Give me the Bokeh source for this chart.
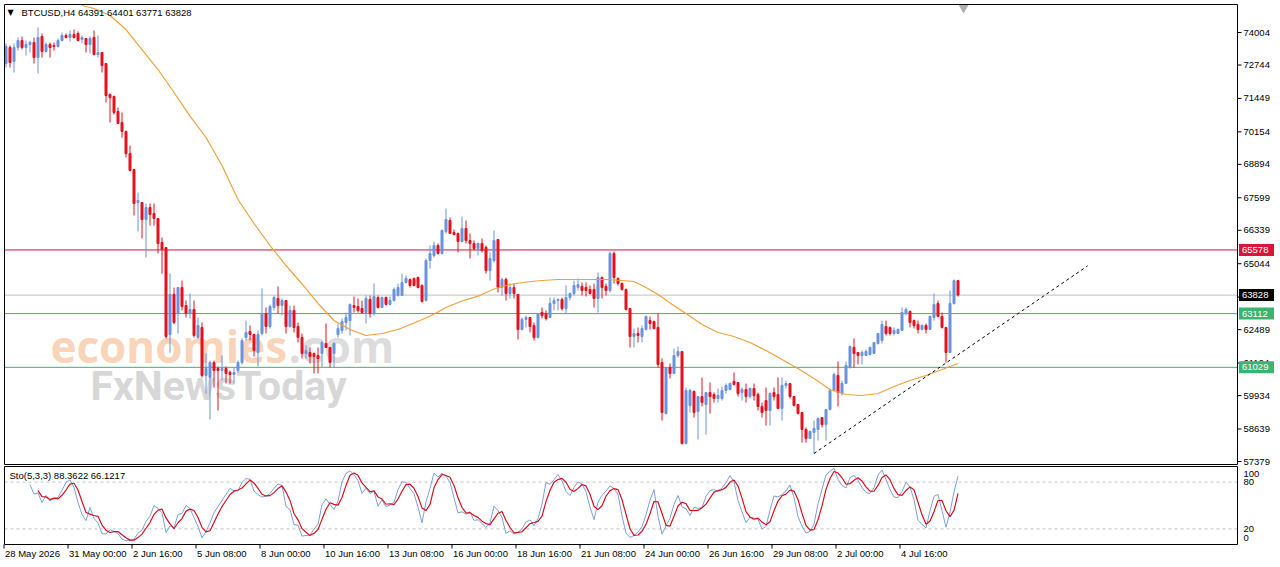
import numpy as np
from bokeh.plotting import figure
from bokeh.models import Range1d, ColumnDataSource
from bokeh.embed import file_html
from bokeh.resources import INLINE
from bokeh.core.properties import value

# ---------------- data (BTCUSD H4) ----------------
opens = [
    72803, 73423, 72880, 73423, 73694, 73423, 73539, 73616, 73035, 73849,
    73268, 73539, 73500, 73461, 73694, 73888, 73810, 73926, 73965, 73733,
    73771, 73539, 73810, 73151, 73229, 72803, 71601, 71524, 70943, 70516,
    70168, 69315, 68695, 67416, 67416, 66758, 67223, 66990, 66796, 65866,
    65673, 62302, 63852, 63115, 64123, 63425, 63115, 63270, 62185, 62573,
    60713, 60635, 61216, 60984, 60906, 60984, 60829, 60751, 60906, 61216,
    62185, 62418, 62302, 61604, 62340, 63115, 62611, 63348, 63697, 63425,
    63619, 62611, 63232, 62611, 62185, 61565, 61604, 61565, 61488, 61565,
    61953, 61798, 61565, 62302, 62457, 62767, 62844, 63425, 63387, 63309,
    63154, 63658, 63115, 63735, 63348, 63735, 63464, 63619, 63813, 63813,
    64317, 64433, 64472, 64510, 64200, 63619, 65169, 65363, 65750, 65440,
    66293, 66719, 66254, 66215, 65905, 66409, 65944, 65828, 65634, 65828,
    65673, 64782, 65169, 65983, 64123, 64433, 63890, 64123, 63852, 62495,
    62883, 62960, 62650, 62185, 63154, 63115, 62960, 63503, 63619, 63658,
    63309, 63735, 63890, 64123, 64162, 64123, 64045, 64045, 63697, 64510,
    64162, 64007, 65440, 64472, 64278, 64045, 63309, 62224, 62340, 62224,
    62495, 62844, 62805, 62573, 61216, 59240, 61023, 60790, 61488, 61643,
    58077, 59550, 60093, 59318, 59899, 59589, 60054, 59976, 59821, 59821,
    60132, 60170, 60481, 60442, 60054, 60170, 59899, 60209, 59976, 59512,
    59744, 59356, 60054, 59976, 59434, 60325, 60403, 59899, 59589, 59279,
    58620, 58271, 58504, 58620, 59085, 58814, 59395, 60132, 60713, 60015,
    60403, 61023, 61798, 61604, 61488, 61488, 61526, 61565, 61953, 62069,
    62611, 62573, 62340, 62340, 62457, 63115, 63193, 62844, 62689, 62495,
    62650, 62495, 62960, 63503, 62999, 62573, 61604, 63503, 64391,
]
highs = [
    73578, 73500, 73578, 73810, 73849, 73694, 73694, 73810, 74198, 73965,
    73616, 73616, 73616, 73771, 74004, 73965, 74081, 74120, 74043, 73888,
    73771, 73849, 74081, 73888, 73229, 72803, 71640, 71563, 71098, 70904,
    70206, 69625, 68695, 67804, 67416, 67378, 67378, 67378, 66796, 66060,
    65673, 64665, 64123, 64123, 64394, 63619, 63890, 63619, 62960, 62767,
    61565, 61294, 61294, 61061, 61488, 61061, 60906, 61023, 61294, 62147,
    62844, 62650, 62340, 62457, 64084, 63348, 63464, 63813, 64162, 63697,
    63619, 63425, 63425, 62767, 62340, 61875, 61798, 61604, 61798, 62069,
    62728, 61798, 61992, 62728, 62921, 63154, 63503, 63774, 63697, 63619,
    63813, 63813, 64278, 63813, 63774, 63774, 63774, 64123, 64278, 64665,
    64588, 64472, 64510, 64549, 64239, 65246, 65750, 65905, 65828, 66370,
    67184, 66835, 66370, 66254, 66874, 66719, 66215, 65944, 65866, 66021,
    65750, 65479, 66332, 65983, 64510, 64510, 64278, 64278, 63852, 62960,
    63038, 62960, 62767, 63115, 63348, 63232, 63735, 63735, 63697, 63735,
    64200, 63929, 64394, 64472, 64317, 64317, 64200, 64278, 64704, 64549,
    64278, 65518, 65518, 64510, 64317, 64084, 63309, 62534, 62573, 62650,
    63038, 62999, 62844, 63115, 61371, 61023, 61178, 61759, 61836, 61643,
    60248, 60209, 60132, 59899, 60635, 60054, 60442, 60054, 60209, 60287,
    60403, 60442, 60829, 60442, 60248, 60403, 60248, 60403, 60054, 59666,
    60248, 60054, 60248, 60635, 60635, 60519, 60403, 59899, 59589, 59279,
    58698, 58581, 58969, 59085, 59085, 59395, 60209, 60829, 61255, 60519,
    61255, 61875, 62147, 61604, 61682, 61720, 61836, 61992, 62340, 62844,
    62844, 62611, 62573, 62534, 63348, 63348, 63232, 62883, 62844, 62689,
    62728, 63038, 63890, 63619, 63154, 62573, 64007, 64433, 64401,
]
lows = [
    72648, 72648, 72454, 73306, 73345, 73113, 73229, 72803, 72415, 73035,
    73229, 73035, 73306, 73423, 73655, 73771, 73655, 73771, 73655, 73578,
    73229, 73190, 73113, 73035, 72454, 71291, 70516, 70826, 70478, 69935,
    69161, 68618, 66913, 66293, 66021, 65285, 66525, 66525, 65440, 64665,
    62147, 61604, 62700, 62340, 63231, 62960, 62921, 62185, 62147, 60635,
    60015, 59008, 60248, 59356, 60519, 60403, 60403, 60403, 60829, 61139,
    62069, 62069, 61449, 61062, 62263, 62340, 62534, 63232, 63115, 63038,
    62340, 62573, 62379, 61992, 61371, 61371, 61178, 60790, 60790, 61023,
    61798, 61023, 61023, 62185, 62340, 62457, 62263, 63154, 63154, 63115,
    62728, 62960, 63038, 63309, 63348, 63425, 63425, 63580, 63774, 63813,
    64278, 64123, 64162, 64084, 63542, 63580, 64859, 65285, 65401, 65401,
    66215, 66215, 66138, 65479, 65866, 65828, 65246, 65557, 65363, 65479,
    64665, 64394, 65091, 63929, 63813, 63619, 63697, 63697, 62108, 62457,
    62573, 62379, 62069, 62147, 62921, 62844, 62960, 63232, 63232, 63232,
    63115, 63619, 63813, 64007, 63813, 63774, 63852, 63348, 63154, 63697,
    63813, 63929, 64278, 64200, 64007, 63232, 61798, 61798, 61992, 61992,
    62457, 62495, 62495, 61023, 58969, 59202, 60596, 60790, 61410, 58039,
    58039, 59279, 59085, 58233, 59512, 58426, 59240, 59666, 59666, 59744,
    60015, 60132, 60325, 59899, 59744, 59666, 59821, 59744, 59356, 59085,
    58775, 58775, 59744, 59434, 58969, 60209, 59821, 59512, 59202, 58116,
    58116, 58271, 57690, 58194, 58698, 58194, 59356, 60093, 59512, 59938,
    60403, 60984, 61023, 61139, 61139, 61488, 61488, 61565, 61914, 61953,
    62263, 62263, 62263, 62340, 62457, 63038, 62573, 62534, 62340, 62457,
    62340, 62495, 62844, 62960, 62534, 61216, 61604, 63464, 63771,
]
closes = [
    73461, 72841, 73423, 73694, 73423, 73539, 73616, 73035, 73810, 73268,
    73539, 73423, 73461, 73694, 73888, 73810, 73926, 73810, 73694, 73810,
    73539, 73771, 73151, 73229, 72725, 71563, 71485, 70904, 70478, 70168,
    69315, 68656, 67378, 67494, 66758, 67223, 66951, 66796, 65828, 65595,
    62224, 63852, 62767, 64123, 63387, 63115, 63270, 62263, 62650, 60713,
    60984, 61216, 60906, 60906, 60984, 60790, 60751, 60829, 61216, 62069,
    62379, 62302, 61682, 62302, 63115, 62611, 63387, 63735, 63425, 63619,
    62611, 63232, 62573, 62185, 61565, 61682, 61449, 61449, 61371, 61992,
    61798, 61216, 61953, 62534, 62805, 62960, 63464, 63348, 63232, 63154,
    63697, 63115, 63774, 63348, 63735, 63464, 63619, 64045, 64123, 64317,
    64472, 64200, 64200, 64123, 63580, 65169, 65440, 65750, 65440, 66332,
    66758, 66215, 66177, 65905, 66409, 65944, 65828, 65634, 65828, 65557,
    64782, 65246, 65944, 64123, 64433, 63890, 64123, 63890, 62495, 62883,
    62960, 62611, 62185, 63115, 63038, 62921, 63503, 63619, 63658, 63309,
    63735, 63890, 64200, 64239, 64007, 64007, 63890, 63697, 64510, 64123,
    64007, 65440, 64510, 64278, 64045, 63270, 62224, 62340, 62263, 62534,
    62999, 62728, 62534, 61139, 59279, 61023, 60790, 61488, 61643, 58077,
    60132, 60132, 59279, 59899, 59666, 60054, 59899, 59821, 59938, 60132,
    60325, 60403, 60364, 60015, 60170, 59899, 60209, 59938, 59512, 59279,
    59356, 60015, 59899, 59434, 60325, 60403, 59899, 59550, 59240, 58620,
    58271, 58543, 58659, 59047, 58814, 59395, 60132, 60751, 60054, 60403,
    61100, 61836, 61565, 61488, 61604, 61643, 61798, 61992, 62340, 62689,
    62340, 62340, 62457, 62495, 63154, 63270, 62767, 62650, 62495, 62650,
    62495, 62999, 63464, 62999, 62573, 61604, 63503, 64391, 63828,
]

# moving average line (bar index, price)
ma_idx = [19, 22, 26, 30, 34, 38, 42, 46, 50, 54, 58, 62, 66, 70, 74, 78, 82,
          86, 90, 94, 98, 102, 106, 110, 114, 118, 122, 126, 130, 134, 138, 142,
          146, 150, 154, 157, 160, 163, 166, 170, 174, 178, 182, 186, 190, 194,
          198, 202, 206, 210, 214, 218, 222, 226, 230, 234, 238]
ma_val = [75050, 74934, 74663, 74120, 73345, 72570, 71679, 70764, 69935,
          68850, 67533, 66603, 65750, 64975, 64259, 63503, 62844, 62495, 62263,
          62340, 62495, 62747, 63011, 63348, 63600, 63786, 64065, 64239, 64336,
          64394, 64433, 64433, 64433, 64433, 64394, 64355, 64123, 63852, 63522,
          63115, 62689, 62379, 62224, 61992, 61682, 61333, 60984, 60596, 60170,
          59976, 59938, 60015, 60287, 60519, 60713, 60945, 61178]

# trend line (bar index, price)
trend_idx = [202, 270.4]
trend_price = [57690, 64960]

# time axis labels (bar index of each label)
date_idx = [0, 16, 32, 48, 64, 80, 96, 112, 128, 144, 160, 176, 192, 208, 224]
date_labels = ["28 May 2026", "31 May 00:00", "2 Jun 16:00", "5 Jun 08:00",
               "8 Jun 00:00", "10 Jun 16:00", "13 Jun 08:00", "16 Jun 00:00",
               "18 Jun 16:00", "21 Jun 08:00", "24 Jun 00:00", "26 Jun 16:00",
               "29 Jun 08:00", "2 Jul 00:00", "4 Jul 16:00"]

price_ticks = [74004, 72744, 71449, 70154, 68894, 67599, 66339, 65044, 63749,
               62489, 61194, 59934, 58639, 57379]

level_values = [65578, 63112, 61029]
level_colors = ["#c8143c", "#3cb371", "#3cb371"]
box_colors = ["#dc143c", "#3cb371", "#3cb371"]
last_price = 63828

sto_levels = [80, 20]
sto_tick_labels = ["100", "80", "20", "0"]

title_text = "BTCUSD,H4  64391 64401 63771 63828"
sto_text = "Sto(5,3,3) 88.3622 66.1217"

# ---------------- layout constants (pixel grid of the terminal) ----------------
PX_X = 0.25          # bar units per pixel (4 px per bar)
PX_P = 38.75         # price units per pixel
PX_S = 100.0 / 78.0  # stochastic units per pixel
XL, XR = -0.375, 307.875          # chart frame left/right (bar units)
YB, YT = 57264.0, 75089.0         # main frame bottom/top (price)

FONT = "Liberation Sans"
FS = "9.5px"
BULL = "#6b93dd"
BEAR = "#e3121c"
MA_COL = "#f0a23a"

n = len(closes)
x = np.arange(n)
o = np.array(opens, dtype=float)
h = np.array(highs, dtype=float)
lo = np.array(lows, dtype=float)
c = np.array(closes, dtype=float)
bull = c >= o
src = ColumnDataSource(dict(
    x=x, h=h, l=lo,
    top=np.maximum(o, c), bottom=np.minimum(o, c),
    color=np.where(bull, BULL, BEAR),
))

p = figure(width=1280, height=567,
           x_range=Range1d(XL - 4 * PX_X, XR + 43 * PX_X),
           y_range=Range1d(YB - 103 * PX_P, YT + 4 * PX_P),
           output_backend="svg", toolbar_location=None,
           x_axis_location=None, y_axis_location=None, min_border=0)
p.extra_y_ranges = {"sto": Range1d(0 - 23 * PX_S, 100 + 466 * PX_S)}
p.grid.visible = False
p.outline_line_color = None
p.background_fill_color = "white"
p.border_fill_color = "white"

# watermark
p.text(x=[XL + 46 * PX_X], y=[YT - 341 * PX_P], text=["economies"],
       text_font=value("Open Sans"), text_font_style="bold",
       text_font_size="44px", text_color="#f9c8a5", text_alpha=0.8,
       text_baseline="alphabetic")
p.text(x=[XL + 284 * PX_X], y=[YT - 341 * PX_P], text=[".com"],
       text_font=value("Open Sans"), text_font_style="bold",
       text_font_size="44px", text_color="#d6d6d6", text_alpha=0.85,
       text_baseline="alphabetic")
p.text(x=[XL + 86 * PX_X], y=[YT - 381 * PX_P], text=["FxNewsToday"],
       text_font=value("Roboto"), text_font_style="bold",
       text_font_size="41px", text_color="#cdcdcd", text_alpha=0.8,
       text_baseline="alphabetic")

# horizontal levels
p.segment(x0=[XL], x1=[XR], y0=[last_price], y1=[last_price],
          line_color="#c0c0c0", line_width=1)
p.segment(x0=[XL] * len(level_values), x1=[XR] * len(level_values),
          y0=level_values, y1=level_values, line_color=level_colors, line_width=1)

# candles
p.segment(x0="x", y0="l", x1="x", y1="h", line_color="color", line_width=1, source=src)
p.vbar(x="x", width=0.5, top="top", bottom="bottom", fill_color="color",
       line_color="color", line_width=1, source=src)

# moving average and trend line
p.line(ma_idx, ma_val, line_color=MA_COL, line_width=1.2)
p.line(trend_idx, trend_price, line_color="black", line_width=1, line_dash="3 3")

# chart shift marker
p.scatter(x=[239.4], y=[YT - 3 * PX_P], marker="inverted_triangle", size=9,
          fill_color="#b0b0b0", line_color="#b0b0b0")

# main frame
p.quad(left=[XL], right=[XR], bottom=[YB], top=[YT], fill_color=None,
       line_color="black", line_width=1)

# price scale: ticks and labels
p.segment(x0=[XR] * len(price_ticks), x1=[XR + 4 * PX_X] * len(price_ticks),
          y0=price_ticks, y1=price_ticks, line_color="black", line_width=1)
p.text(x=[XR + 6 * PX_X] * len(price_ticks), y=price_ticks,
       text=[str(t) for t in price_ticks], text_font=value(FONT),
       text_font_size=FS, text_color="black", text_baseline="middle",
       text_align="left")

# price boxes
box_vals = [last_price] + level_values
box_cols = ["#000000"] + box_colors
p.rect(x=[XR + 19 * PX_X] * len(box_vals), y=box_vals, width=35 * PX_X,
       height=12 * PX_P, fill_color=box_cols, line_color=None)
p.text(x=[XR + 4.5 * PX_X] * len(box_vals), y=box_vals,
       text=[str(v) for v in box_vals], text_font=value(FONT),
       text_font_size=FS, text_color="white", text_baseline="middle",
       text_align="left")

# title
p.text(x=[XL + 3 * PX_X], y=[YT - 8 * PX_P], text=["\u25bc"],
       text_font=value("DejaVu Sans"), text_font_size="8px",
       text_color="black", text_baseline="middle")
p.text(x=[XL + 17 * PX_X], y=[YT - 8 * PX_P], text=[title_text],
       text_font=value(FONT), text_font_size=FS, text_color="black",
       text_baseline="middle")

# ---------------- stochastic (5,3,3) from the candles ----------------
hh = np.array([h[max(0, i - 4):i + 1].max() for i in range(n)])
ll = np.array([lo[max(0, i - 4):i + 1].min() for i in range(n)])
k_main = np.full(n, np.nan)
for i in range(6, n):
    num = (c[i - 2:i + 1] - ll[i - 2:i + 1]).sum()
    den = (hh[i - 2:i + 1] - ll[i - 2:i + 1]).sum()
    k_main[i] = 100.0 * num / den if den > 0 else 50.0
k_sig = np.full(n, np.nan)
for i in range(8, n):
    k_sig[i] = k_main[i - 2:i + 1].mean()

p.segment(x0=[XL] * 2, x1=[XR] * 2, y0=sto_levels, y1=sto_levels,
          line_color="#c4c4c4", line_width=1, line_dash="3 3", y_range_name="sto")
p.line(x, k_main, line_color="#7aa0dc", line_width=1, y_range_name="sto")
p.line(x, k_sig, line_color="#d8101e", line_width=1.2, y_range_name="sto")
p.quad(left=[XL], right=[XR], bottom=[0], top=[100], fill_color=None,
       line_color="black", line_width=1, y_range_name="sto")

p.text(x=[XL + 5 * PX_X], y=[100 - 9 * PX_S], text=[sto_text],
       text_font=value(FONT), text_font_size=FS, text_color="black",
       text_baseline="middle", y_range_name="sto")

# stochastic scale labels (100 and 0 sit inside the panel as in the terminal)
sto_label_y = [100 - 7 * PX_S, 80, 20, 0 + 7 * PX_S]
p.text(x=[XR + 6 * PX_X] * 4, y=sto_label_y, text=sto_tick_labels,
       text_font=value(FONT), text_font_size=FS, text_color="black",
       text_baseline="middle", text_align="left", y_range_name="sto")

# time scale: ticks and labels
p.segment(x0=[d - 2 * PX_X for d in date_idx], x1=[d - 2 * PX_X for d in date_idx],
          y0=[0] * len(date_idx), y1=[-4 * PX_S] * len(date_idx),
          line_color="black", line_width=1, y_range_name="sto")
p.text(x=[d - 1 * PX_X for d in date_idx], y=[-9 * PX_S] * len(date_idx),
       text=date_labels, text_font=value(FONT), text_font_size=FS,
       text_color="black", text_baseline="middle", text_align="left",
       y_range_name="sto")

open("out.html", "w").write(file_html(p, INLINE, title="BTCUSD H4"))
